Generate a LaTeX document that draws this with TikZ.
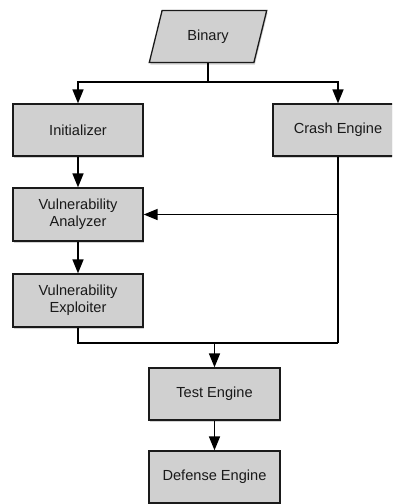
\documentclass[tikz,border=0pt]{standalone}
\usepackage{fontspec}
\setmainfont{Liberation Sans}
\usetikzlibrary{arrows.meta,shapes.geometric,shadows}
\definecolor{boxgray}{HTML}{D0D0D0}
\definecolor{edge}{HTML}{1A1A1A}
\begin{document}
\begin{tikzpicture}[x=1pt,y=1pt,
  box/.style={draw=edge,line width=1.3pt,fill=boxgray,minimum width=130pt,minimum height=52pt,
    inner sep=0pt,align=center,font=\fontsize{14.6}{17.3}\selectfont,text=black!90,
    drop shadow={shadow xshift=1pt,shadow yshift=-2pt,opacity=0.35}},
  para/.style={box,trapezium,trapezium left angle=67,trapezium right angle=113,
    trapezium stretches=true,minimum width=118pt},
  conn/.style={draw=black,line width=1.6pt},
  arr/.style={conn,-{Triangle[length=14pt,width=11pt]}}]
\useasboundingbox (0,0) rectangle (392,-504);
\clip (0,0) rectangle (392,-504);
\node[para] (bin) at (208,-36.5) {Binary};
\node[box] (init) at (78,-130) {Initializer};
\node[box] (crash) at (338,-130) {Crash Engine};
\node[box,minimum height=53pt] (va) at (78,-214.5) {Vulnerability\\Analyzer};
\node[box,minimum height=53pt] (ve) at (78,-300.5) {Vulnerability\\Exploiter};
\node[box,minimum width=131pt] (test) at (214.5,-394) {Test Engine};
\node[box,minimum width=131pt] (def) at (214.5,-477) {Defense Engine};
\coordinate (j1) at (208,-82);
\coordinate (j2) at (214.5,-343);
\draw[conn] (bin.south) -- (j1);
\draw[arr] (j1) -| (init.north);
\draw[arr] (j1) -| (crash.north);
\draw[arr] (init.south) -- (va.north);
\draw[arr] (va.south) -- (ve.north);
\draw[conn] (crash.south) -- (crash.south |- j2);
\draw[arr] (crash.south |- va.east) -- (va.east);
\draw[conn] (ve.south) |- (crash.south |- j2);
\draw[arr] (j2) -- (test.north);
\draw[arr] (test.south) -- (def.north);
\end{tikzpicture}
\end{document}
